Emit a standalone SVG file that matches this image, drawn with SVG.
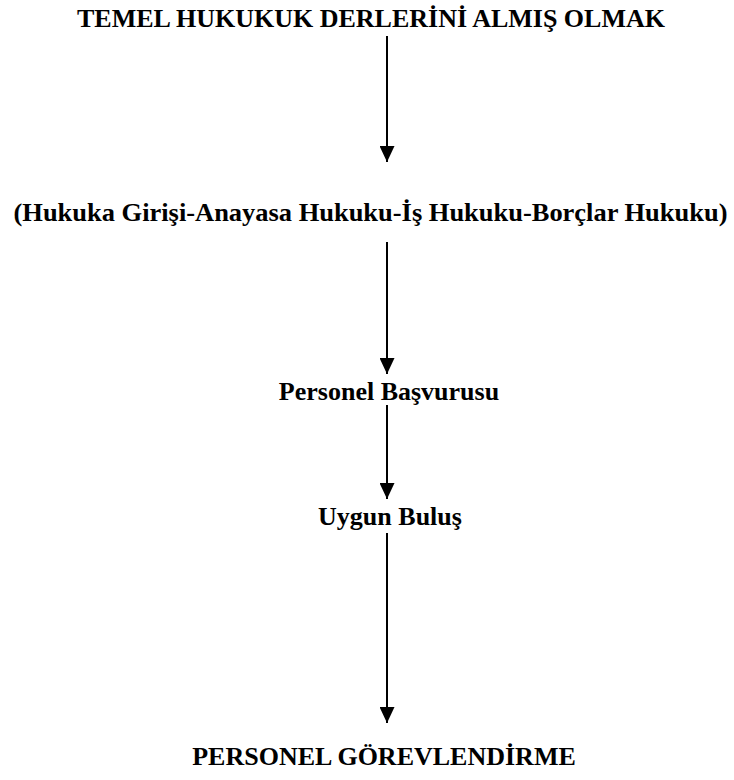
<svg xmlns="http://www.w3.org/2000/svg" width="734" height="780" viewBox="0 0 734 780">
  <style>
    .t { font-family: "Liberation Serif", "Times New Roman", serif; font-weight: bold; fill: #000; text-anchor: middle; font-size: 26px; }
    .c { stroke: #000; stroke-width: 2; fill: none; }
  </style>
  <defs>
    <!-- solid triangular arrowhead, tip at the end of the line -->
    <marker id="arrow" viewBox="0 0 16 15" refX="16" refY="7.5" markerWidth="16" markerHeight="15" markerUnits="userSpaceOnUse" orient="auto">
      <path d="M0,0 L16,7.5 L0,15 Z" fill="#000"/>
    </marker>
  </defs>
  <rect width="734" height="780" fill="#fff"/>
  <g id="n1"><text class="t" x="371" y="27">TEMEL HUKUKUK DERLERİNİ ALMIŞ OLMAK</text></g>
  <g id="n2"><text class="t" x="370.5" y="221" textLength="714" lengthAdjust="spacingAndGlyphs">(Hukuka Girişi-Anayasa Hukuku-İş Hukuku-Borçlar Hukuku)</text></g>
  <g id="n3"><text class="t" x="389" y="400">Personel Başvurusu</text></g>
  <g id="n4"><text class="t" x="390" y="525">Uygun Buluş</text></g>
  <g id="n5"><text class="t" x="384" y="765">PERSONEL GÖREVLENDİRME</text></g>
  <g id="connectors">
    <path class="c" d="M387,36 V162" marker-end="url(#arrow)"/>
    <path class="c" d="M387,242 V374" marker-end="url(#arrow)"/>
    <path class="c" d="M387,405 V499" marker-end="url(#arrow)"/>
    <path class="c" d="M387,533 V723" marker-end="url(#arrow)"/>
  </g>
</svg>
